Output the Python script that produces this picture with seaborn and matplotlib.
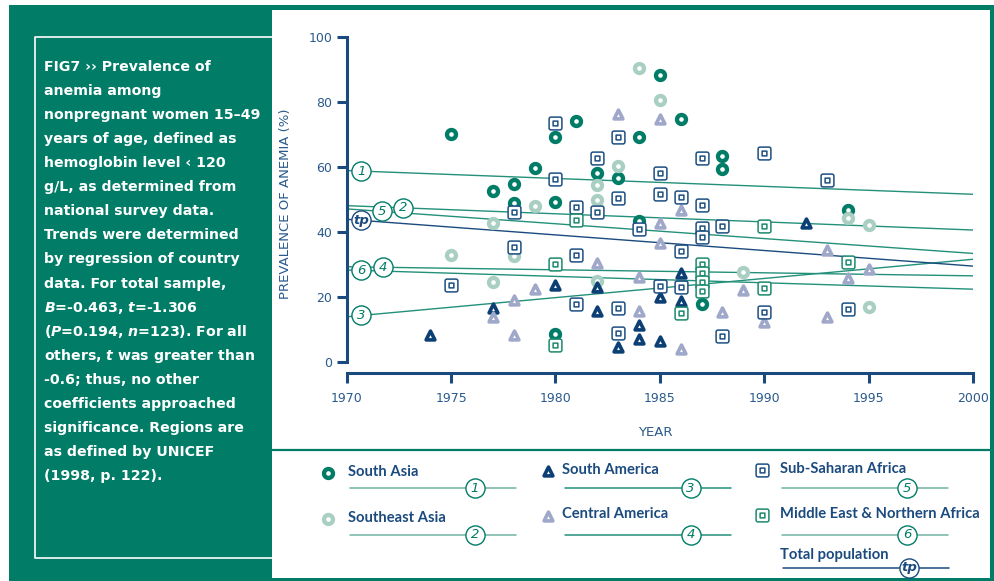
import numpy as np
import pandas as pd
import seaborn as sns
import matplotlib.pyplot as plt
from matplotlib.path import Path
from matplotlib.patches import Rectangle

# values
regions = ['South Asia', 'Southeast Asia', 'South America', 'Central America',
           'Sub-Saharan Africa', 'Middle East & Northern Africa']

south_asia_year = [1975, 1977, 1978, 1978, 1979, 1980, 1980, 1980, 1981, 1982,
                   1983, 1984, 1984, 1985, 1986, 1987, 1988, 1988, 1994]
south_asia_val = [70.2, 52.8, 54.8, 49.1, 59.7, 69.4, 49.2, 8.7, 74.3, 58.2,
                  56.8, 69.2, 43.6, 88.3, 74.9, 17.8, 63.6, 59.5, 46.9]

se_asia_year = [1975, 1977, 1977, 1978, 1979, 1982, 1982, 1982, 1983, 1984,
                1985, 1989, 1994, 1995, 1995]
se_asia_val = [33.0, 42.8, 24.7, 32.7, 48.1, 54.5, 49.9, 25.0, 60.4, 90.5,
               80.7, 27.9, 44.3, 42.2, 17.1]

s_america_year = [1974, 1977, 1980, 1982, 1982, 1983, 1984, 1984, 1985, 1985,
                  1986, 1986, 1992]
s_america_val = [8.4, 16.6, 23.8, 23.1, 15.8, 4.6, 11.5, 7.1, 20.2, 6.6,
                 27.6, 19.0, 43.0]

c_america_year = [1977, 1978, 1978, 1979, 1982, 1983, 1984, 1984, 1985, 1985,
                  1985, 1986, 1986, 1988, 1989, 1990, 1993, 1993, 1994, 1995]
c_america_val = [14.0, 19.2, 8.4, 22.5, 30.5, 76.4, 26.2, 15.8, 74.8, 42.8,
                 36.6, 46.9, 4.1, 15.6, 22.2, 12.5, 34.6, 13.8, 25.8, 28.7]

ssa_year = [1975, 1978, 1978, 1980, 1980, 1981, 1981, 1981, 1982, 1982,
            1983, 1983, 1983, 1983, 1984, 1985, 1985, 1985, 1986, 1986,
            1986, 1987, 1987, 1987, 1987, 1988, 1988, 1990, 1990, 1993, 1994]
ssa_val = [23.7, 46.2, 35.6, 73.5, 56.4, 47.7, 32.9, 17.8, 63.0, 46.2,
           69.4, 50.6, 16.6, 8.9, 41.0, 58.2, 51.8, 23.5, 51.0, 34.2,
           23.3, 62.8, 48.4, 41.4, 38.5, 41.9, 8.1, 64.4, 15.6, 56.0, 16.3]

mena_year = [1980, 1980, 1981, 1986, 1987, 1987, 1987, 1987, 1990, 1990, 1994]
mena_val = [30.1, 5.3, 43.8, 15.1, 30.1, 27.4, 24.8, 22.0, 41.9, 22.8, 30.8]

# regression lines (value at 1970 and at 2000)
trend_ids = ['1', '2', '3', '4', '5', '6', 'tp']
trend_1970 = [59.0, 48.2, 14.0, 29.4, 47.2, 28.4, 44.0]
trend_2000 = [51.7, 40.7, 31.7, 26.6, 33.5, 22.5, 29.6]
trend_label_x = [1970.7, 1972.7, 1970.7, 1971.75, 1971.7, 1970.7, 1970.7]

caption = [
    'FIG7 ›› Prevalence of',
    'anemia among',
    'nonpregnant women 15–49',
    'years of age, defined as',
    'hemoglobin level ‹ 120',
    'g/L, as determined from',
    'national survey data.',
    'Trends were determined',
    'by regression of country',
    'data. For total sample,',
    '$B$=-0.463, $t$=-1.306',
    '($P$=0.194, $n$=123). For all',
    'others, $t$ was greater than',
    '-0.6; thus, no other',
    'coefficients approached',
    'significance. Regions are',
    'as defined by UNICEF',
    '(1998, p. 122).',
]

df = pd.concat([
    pd.DataFrame({'year': south_asia_year, 'value': south_asia_val, 'region': regions[0]}),
    pd.DataFrame({'year': se_asia_year, 'value': se_asia_val, 'region': regions[1]}),
    pd.DataFrame({'year': s_america_year, 'value': s_america_val, 'region': regions[2]}),
    pd.DataFrame({'year': c_america_year, 'value': c_america_val, 'region': regions[3]}),
    pd.DataFrame({'year': ssa_year, 'value': ssa_val, 'region': regions[4]}),
    pd.DataFrame({'year': mena_year, 'value': mena_val, 'region': regions[5]}),
])

sns.set_style('white')
plt.rcParams['font.family'] = ['DejaVu Sans']
plt.rcParams['mathtext.fontset'] = 'custom'
plt.rcParams['mathtext.it'] = 'DejaVu Sans:italic:bold'
plt.rcParams['mathtext.rm'] = 'DejaVu Sans:bold'

teal = '#007c67'
navy = '#1b4b7e'
tick_col = '#2a5a8c'
line_teal = '#23907a'


# rounded square with a small square inside
def boxed_square(r=0.3, inner=0.37):
    v = [(-1 + r, -1), (1 - r, -1), (1, -1), (1, -1 + r), (1, 1 - r), (1, 1), (1 - r, 1),
         (-1 + r, 1), (-1, 1), (-1, 1 - r), (-1, -1 + r), (-1, -1), (-1 + r, -1), (0, 0),
         (-inner, -inner), (inner, -inner), (inner, inner), (-inner, inner), (0, 0)]
    c = [Path.MOVETO, Path.LINETO, Path.CURVE3, Path.CURVE3, Path.LINETO, Path.CURVE3, Path.CURVE3,
         Path.LINETO, Path.CURVE3, Path.CURVE3, Path.LINETO, Path.CURVE3, Path.CURVE3, Path.CLOSEPOLY,
         Path.MOVETO, Path.LINETO, Path.LINETO, Path.LINETO, Path.CLOSEPOLY]
    return Path(v, c)


sq = boxed_square()
styles = {
    'South Asia': dict(marker='o', s=42, color=teal, linewidth=3.1),
    'Southeast Asia': dict(marker='o', s=42, color='#a9cfc3', linewidth=3.1),
    'South America': dict(marker='^', s=40, color='#0c3f74', linewidth=2.6, joinstyle='round'),
    'Central America': dict(marker='^', s=40, color='#a0a8c9', linewidth=2.6, joinstyle='round'),
    'Sub-Saharan Africa': dict(marker=sq, s=85, color='#1d4f82', linewidth=1.1),
    'Middle East & Northern Africa': dict(marker=sq, s=85, color='#1b8a6c', linewidth=1.1),
}

fig = plt.figure(figsize=(9.94, 5.81), dpi=100)

# background axes in pixel units for frame, caption and legend
bg = fig.add_axes([0, 0, 1, 1], zorder=0)
bg.set_xlim(0, 994)
bg.set_ylim(581, 0)
bg.axis('off')

bg.add_patch(Rectangle((9, 5), 263, 576, color=teal, lw=0))
bg.add_patch(Rectangle((272, 5), 722, 5, color=teal, lw=0))
bg.add_patch(Rectangle((990, 5), 4, 576, color=teal, lw=0))
bg.add_patch(Rectangle((272, 578), 722, 3, color=teal, lw=0))
bg.plot([272, 990], [449.5, 449.5], color=teal, lw=1.6)
bg.plot([272, 35, 35, 272], [37, 37, 558, 558], color='white', lw=1.2)

for i, line in enumerate(caption):
    bg.text(44, 67 + i * 24.06, line, color='white', fontsize=10.2, fontweight='bold',
            va='center', ha='left')

# main scatter axes
ax = fig.add_axes([346.7 / 994, (581 - 362.3) / 581, 626.3 / 994, 325 / 581], zorder=1)
ax.patch.set_alpha(0)

for i, t in enumerate(trend_ids):
    col = navy if t == 'tp' else line_teal
    sns.lineplot(x=[1970, 2000], y=[trend_1970[i], trend_2000[i]], ax=ax, color=col,
                 lw=1.0, zorder=2)

for r in regions:
    st = dict(styles[r])
    col = st.pop('color')
    sns.scatterplot(data=df[df['region'] == r], x='year', y='value', ax=ax, color=col,
                    facecolor='white', edgecolor=col, legend=False, zorder=3,
                    clip_on=False, **st)

for i, t in enumerate(trend_ids):
    col = navy if t == 'tp' else teal
    lx = trend_label_x[i]
    ly = trend_1970[i] + (trend_2000[i] - trend_1970[i]) * (lx - 1970) / 30
    ax.scatter([lx], [ly], s=190, facecolor='white', edgecolor=col, linewidth=1.0,
               zorder=5, clip_on=False)
    ax.text(lx, ly, t, color=col, fontsize=9.5, fontstyle='italic',
            fontweight='bold' if t == 'tp' else 'normal',
            ha='center', va='center', zorder=6)

ax.set_xlim(1970, 2000)
ax.set_ylim(0, 100)
ax.set_xticks(range(1970, 2001, 5))
ax.set_yticks(range(0, 101, 20))
sns.despine(ax=ax)
ax.spines['left'].set_bounds(0, 100)
ax.spines['bottom'].set_bounds(1970, 2000)
ax.spines['bottom'].set_position(('outward', 7.9))
for s in ['left', 'bottom']:
    ax.spines[s].set_color(navy)
    ax.spines[s].set_linewidth(2.2)
ax.tick_params(axis='both', direction='out', length=7.5, width=2.2, color=navy,
               labelcolor=tick_col, labelsize=9, bottom=True, left=True)
ax.tick_params(axis='y', pad=3)
ax.tick_params(axis='x', pad=6)
ax.set_xlabel('YEAR', fontsize=9.5, color=tick_col)
ax.set_ylabel('PREVALENCE OF ANEMIA (%)', fontsize=9.5, color=tick_col)
ax.xaxis.set_label_coords(0.492, -0.2145)
ax.xaxis.label.set_va('center')
ax.yaxis.set_label_coords(-0.0985, 0.488)
ax.yaxis.label.set_va('center')

# legend, laid out by hand like the original
leg_marker_x = [327.5, 327.5, 547.5, 547.5, 761.5, 761.5]
leg_text_x = [347.5, 347.5, 562.5, 562.5, 779.5, 779.5]
leg_text_y = [472, 517.5, 470, 514.5, 469, 514]
leg_line_x = [(349.5, 515.5), (349.5, 515.5), (564.5, 730.5), (564.5, 730.5),
              (781.5, 947.5), (781.5, 947.5)]
leg_line_y = [488, 535, 488, 535, 488, 535]
leg_circle_x = [475, 475, 690.5, 690.5, 907, 907]
leg_ids = ['1', '2', '3', '4', '5', '6']

for i, r in enumerate(regions):
    st = dict(styles[r])
    col = st.pop('color')
    bg.scatter([leg_marker_x[i]], [leg_text_y[i] + 1], facecolor='white', edgecolor=col, **st)
    bg.text(leg_text_x[i], leg_text_y[i], r, family='Lato', fontweight='bold',
            fontsize=10.6, color=navy, va='center', ha='left')
    lc = line_teal if leg_ids[i] in ('3', '4') else '#6fb4a3'
    bg.plot(leg_line_x[i], [leg_line_y[i]] * 2, color=lc, lw=1.1)
    bg.scatter([leg_circle_x[i]], [leg_line_y[i]], s=190, facecolor='white', edgecolor=teal,
               linewidth=1.0, zorder=5)
    bg.text(leg_circle_x[i], leg_line_y[i], leg_ids[i], color=teal, fontsize=9.5,
            fontstyle='italic', ha='center', va='center', zorder=6)

bg.text(779.5, 555, 'Total population', family='Lato', fontweight='bold', fontsize=10.6,
        color=navy, va='center', ha='left')
bg.plot([783, 948.5], [568, 568], color=navy, lw=1.1)
bg.scatter([909], [568], s=190, facecolor='white', edgecolor=navy, linewidth=1.0, zorder=5)
bg.text(909, 568, 'tp', color=navy, fontsize=9.5, fontstyle='italic', fontweight='bold',
        ha='center', va='center', zorder=6)

fig.savefig('out.png', dpi=100)
